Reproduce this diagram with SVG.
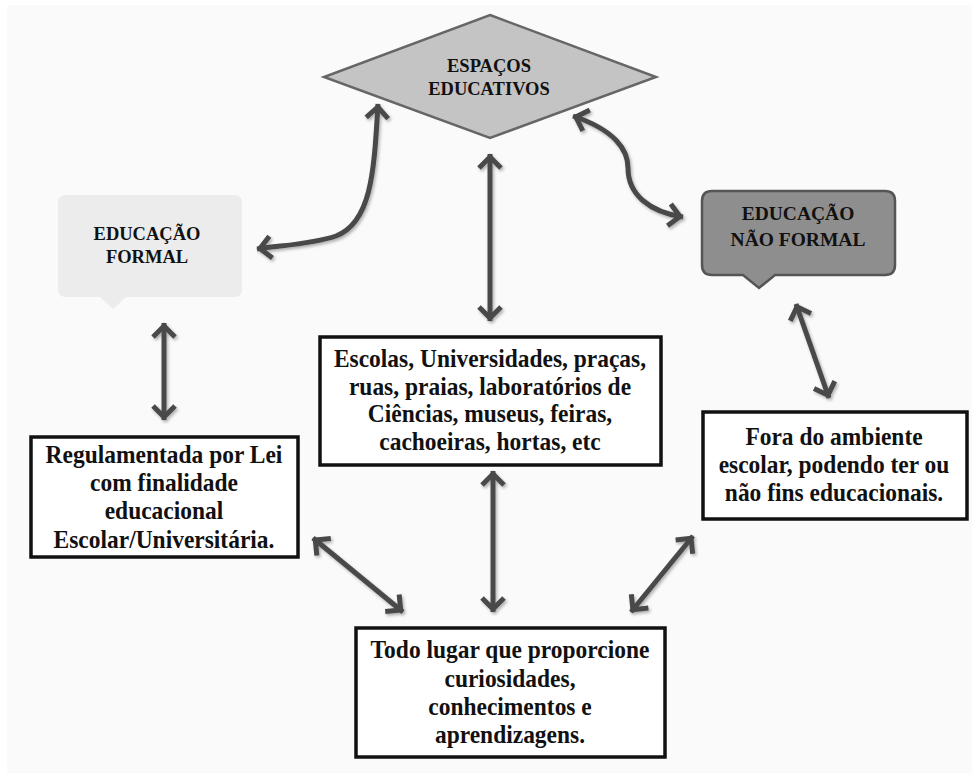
<svg xmlns="http://www.w3.org/2000/svg" width="972" height="773" viewBox="0 0 972 773">
<defs>
<style>
.t{font-family:"Liberation Serif","Times New Roman",serif;font-weight:bold;fill:#111;text-anchor:middle}
.body{font-size:25.5px}
.box{fill:#fff;stroke:#111;stroke-width:3.5}
.con{fill:none;stroke:#4a4a4a;stroke-width:5;marker-start:url(#ah);marker-end:url(#ah)}
</style>
<marker id="ah" markerUnits="userSpaceOnUse" markerWidth="34" markerHeight="34" viewBox="-17 -17 34 34" refX="0" refY="0" orient="auto-start-reverse">
<path d="M -14,-11 L -3,0 L -14,11" fill="none" stroke="#4a4a4a" stroke-width="5" stroke-linejoin="miter"/>
</marker>
<filter id="sh" x="-20%" y="-20%" width="140%" height="140%">
<feDropShadow dx="1.5" dy="2" stdDeviation="1.5" flood-color="#000" flood-opacity="0.3"/>
</filter>
</defs>
<rect x="0" y="0" width="972" height="773" fill="#ffffff"/>
<rect x="7" y="5" width="965" height="768" fill="#fafafa"/>

<g id="connectors" filter="url(#sh)">
<path class="con" d="M 378,104 C 374,170 372,222 336,236 C 312,244 285,245 257,249"/>
<path class="con" d="M 573,116 C 615,130 628,150 628,168 C 628,195 650,212 683,217"/>
<path class="con" d="M 490,154 L 490,321"/>
<path class="con" d="M 164,323 L 164,420"/>
<path class="con" d="M 796,304 L 829,398"/>
<path class="con" d="M 493,471 L 493,612"/>
<path class="con" d="M 313,538 L 403,612"/>
<path class="con" d="M 693,536 L 631,612"/>
</g>

<g id="espacos">
<polygon points="490,15 656,77 490,138 324,77" fill="#c4c4c4" stroke="#666" stroke-width="2.5"/>
<text class="t" x="489" y="72" font-size="18.5">ESPAÇOS</text>
<text class="t" x="489" y="95" font-size="18.5">EDUCATIVOS</text>
</g>

<g id="formal">
<path d="M 66,195 H 234 Q 242,195 242,203 V 289 Q 242,297 234,297 H 126 L 113,309 L 100,297 H 66 Q 58,297 58,289 V 203 Q 58,195 66,195 Z" fill="#ececec"/>
<text class="t" x="147" y="240" font-size="18.5">EDUCAÇÃO</text>
<text class="t" x="147" y="263" font-size="18.5">FORMAL</text>
</g>

<g id="naoformal">
<path d="M 712,191 H 885 Q 895,191 895,201 V 265 Q 895,275 885,275 H 775 L 759,288 L 743,275 H 712 Q 702,275 702,265 V 201 Q 702,191 712,191 Z" fill="#8e8e8e" stroke="#555" stroke-width="2.5"/>
<text class="t" x="798" y="220" font-size="19.5">EDUCAÇÃO</text>
<text class="t" x="798" y="246" font-size="19.5">NÃO FORMAL</text>
</g>

<g id="escolas">
<rect class="box" x="320" y="337" width="341" height="128"/>
<g transform="translate(490,0) scale(0.92,1)">
<text class="t body" x="0" y="367">Escolas, Universidades, praças,</text>
<text class="t body" x="0" y="395">ruas, praias, laboratórios de</text>
<text class="t body" x="0" y="422">Ciências, museus, feiras,</text>
<text class="t body" x="0" y="450">cachoeiras, hortas, etc</text>
</g>
</g>

<g id="regulamentada">
<rect class="box" x="31" y="437" width="267" height="120"/>
<g transform="translate(164,0) scale(0.92,1)">
<text class="t body" x="0" y="463">Regulamentada por Lei</text>
<text class="t body" x="0" y="491">com finalidade</text>
<text class="t body" x="0" y="519">educacional</text>
<text class="t body" x="0" y="548">Escolar/Universitária.</text>
</g>
</g>

<g id="fora">
<rect class="box" x="703" y="412" width="264" height="107"/>
<g transform="translate(834,0) scale(0.92,1)">
<text class="t body" x="0" y="445">Fora do ambiente</text>
<text class="t body" x="0" y="473">escolar, podendo ter ou</text>
<text class="t body" x="0" y="501">não fins educacionais.</text>
</g>
</g>

<g id="todo">
<rect class="box" x="356" y="628" width="309" height="129"/>
<g transform="translate(510,0) scale(0.92,1)">
<text class="t body" x="0" y="658">Todo lugar que proporcione</text>
<text class="t body" x="0" y="687">curiosidades,</text>
<text class="t body" x="0" y="715">conhecimentos e</text>
<text class="t body" x="0" y="743">aprendizagens.</text>
</g>
</g>
</svg>
